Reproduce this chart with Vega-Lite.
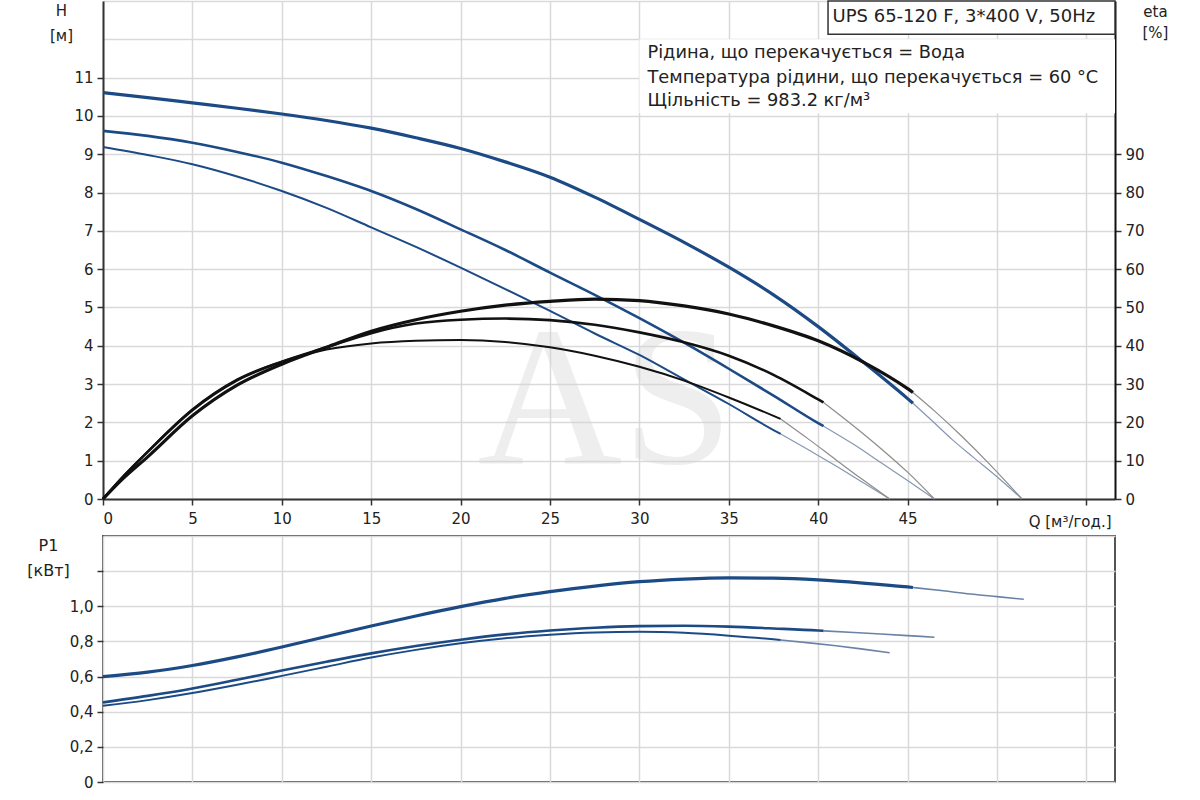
{
  "$schema": "https://vega.github.io/schema/vega-lite/v6.json",
  "background": "white",
  "padding": {"left": 25, "top": 0, "right": 0, "bottom": 0},
  "spacing": 6,
  "config": {
    "font": "DejaVu Sans",
    "axis": {
      "labelFont": "DejaVu Sans", "labelFontSize": 15, "labelColor": "#222",
      "titleFont": "DejaVu Sans", "titleFontSize": 15, "titleFontWeight": "normal", "titleColor": "#222",
      "gridColor": "#d9d9d9", "gridWidth": 1.5,
      "domainColor": "#333", "domainWidth": 2,
      "tickColor": "#333", "tickWidth": 1.5, "tickSize": 6
    }
  },
  "datasets": {
    "head": [
      {"s":1,"p":"m","q":0,"v":10.61},{"s":1,"p":"m","q":2.5,"v":10.48},{"s":1,"p":"m","q":5,"v":10.34},{"s":1,"p":"m","q":7.5,"v":10.2},{"s":1,"p":"m","q":10,"v":10.05},{"s":1,"p":"m","q":12.5,"v":9.88},{"s":1,"p":"m","q":15,"v":9.68},{"s":1,"p":"m","q":17.5,"v":9.43},{"s":1,"p":"m","q":20,"v":9.15},{"s":1,"p":"m","q":22.5,"v":8.8},{"s":1,"p":"m","q":25,"v":8.4},{"s":1,"p":"m","q":27.5,"v":7.88},{"s":1,"p":"m","q":30,"v":7.3},{"s":1,"p":"m","q":32.5,"v":6.7},{"s":1,"p":"m","q":35,"v":6.05},{"s":1,"p":"m","q":37.5,"v":5.33},{"s":1,"p":"m","q":40,"v":4.5},{"s":1,"p":"m","q":42.5,"v":3.58},{"s":1,"p":"m","q":45,"v":2.62},{"s":1,"p":"m","q":45.3,"v":2.5},
      {"s":1,"p":"e","q":45.3,"v":2.5},{"s":1,"p":"e","q":46.4,"v":2.03},{"s":1,"p":"e","q":47.5,"v":1.55},{"s":1,"p":"e","q":48.7,"v":1.08},{"s":1,"p":"e","q":50,"v":0.58},{"s":1,"p":"e","q":51.4,"v":0},
      {"s":2,"p":"m","q":0,"v":9.61},{"s":2,"p":"m","q":2.5,"v":9.48},{"s":2,"p":"m","q":5,"v":9.3},{"s":2,"p":"m","q":7.5,"v":9.06},{"s":2,"p":"m","q":10,"v":8.78},{"s":2,"p":"m","q":12.5,"v":8.43},{"s":2,"p":"m","q":15,"v":8.04},{"s":2,"p":"m","q":17.5,"v":7.57},{"s":2,"p":"m","q":20,"v":7.04},{"s":2,"p":"m","q":22.5,"v":6.5},{"s":2,"p":"m","q":25,"v":5.91},{"s":2,"p":"m","q":27.5,"v":5.33},{"s":2,"p":"m","q":30,"v":4.72},{"s":2,"p":"m","q":32.5,"v":4.08},{"s":2,"p":"m","q":35,"v":3.4},{"s":2,"p":"m","q":37.5,"v":2.7},{"s":2,"p":"m","q":40,"v":1.98},{"s":2,"p":"m","q":40.3,"v":1.9},
      {"s":2,"p":"e","q":40.3,"v":1.9},{"s":2,"p":"e","q":42,"v":1.42},{"s":2,"p":"e","q":43.5,"v":0.95},{"s":2,"p":"e","q":45,"v":0.48},{"s":2,"p":"e","q":46.5,"v":0},
      {"s":3,"p":"m","q":0,"v":9.19},{"s":3,"p":"m","q":2.5,"v":8.98},{"s":3,"p":"m","q":5,"v":8.74},{"s":3,"p":"m","q":7.5,"v":8.42},{"s":3,"p":"m","q":10,"v":8.04},{"s":3,"p":"m","q":12.5,"v":7.6},{"s":3,"p":"m","q":15,"v":7.09},{"s":3,"p":"m","q":17.5,"v":6.58},{"s":3,"p":"m","q":20,"v":6.04},{"s":3,"p":"m","q":22.5,"v":5.48},{"s":3,"p":"m","q":25,"v":4.91},{"s":3,"p":"m","q":27.5,"v":4.32},{"s":3,"p":"m","q":30,"v":3.76},{"s":3,"p":"m","q":32.5,"v":3.12},{"s":3,"p":"m","q":35,"v":2.48},{"s":3,"p":"m","q":37.5,"v":1.8},{"s":3,"p":"m","q":37.9,"v":1.7},
      {"s":3,"p":"e","q":37.9,"v":1.7},{"s":3,"p":"e","q":39.5,"v":1.27},{"s":3,"p":"e","q":41,"v":0.86},{"s":3,"p":"e","q":42.5,"v":0.43},{"s":3,"p":"e","q":44,"v":0}
    ],
    "eta": [
      {"s":1,"p":"m","q":0,"v":0},{"s":1,"p":"m","q":1,"v":4.8},{"s":1,"p":"m","q":2.5,"v":11},{"s":1,"p":"m","q":5,"v":21.7},{"s":1,"p":"m","q":7.5,"v":29.7},{"s":1,"p":"m","q":10,"v":35.2},{"s":1,"p":"m","q":12.5,"v":39.6},{"s":1,"p":"m","q":15,"v":43.8},{"s":1,"p":"m","q":17.5,"v":46.8},{"s":1,"p":"m","q":20,"v":49},{"s":1,"p":"m","q":22.5,"v":50.6},{"s":1,"p":"m","q":25,"v":51.6},{"s":1,"p":"m","q":27.5,"v":52.2},{"s":1,"p":"m","q":30,"v":51.8},{"s":1,"p":"m","q":32.5,"v":50.4},{"s":1,"p":"m","q":35,"v":48.3},{"s":1,"p":"m","q":37.5,"v":45.2},{"s":1,"p":"m","q":40,"v":41.3},{"s":1,"p":"m","q":42.5,"v":35.8},{"s":1,"p":"m","q":45,"v":28.8},{"s":1,"p":"m","q":45.3,"v":27.8},
      {"s":1,"p":"e","q":45.3,"v":27.8},{"s":1,"p":"e","q":46.5,"v":23},{"s":1,"p":"e","q":48,"v":16.5},{"s":1,"p":"e","q":49.5,"v":9.5},{"s":1,"p":"e","q":51.4,"v":0},
      {"s":2,"p":"m","q":0,"v":0},{"s":2,"p":"m","q":1,"v":5.2},{"s":2,"p":"m","q":2.5,"v":12.3},{"s":2,"p":"m","q":5,"v":23.2},{"s":2,"p":"m","q":7.5,"v":31},{"s":2,"p":"m","q":10,"v":35.8},{"s":2,"p":"m","q":12.5,"v":39.6},{"s":2,"p":"m","q":15,"v":43.3},{"s":2,"p":"m","q":17.5,"v":45.8},{"s":2,"p":"m","q":20,"v":46.8},{"s":2,"p":"m","q":22.5,"v":47.1},{"s":2,"p":"m","q":25,"v":46.7},{"s":2,"p":"m","q":27.5,"v":45.5},{"s":2,"p":"m","q":30,"v":43.5},{"s":2,"p":"m","q":32.5,"v":40.9},{"s":2,"p":"m","q":35,"v":37.4},{"s":2,"p":"m","q":37.5,"v":32.4},{"s":2,"p":"m","q":40,"v":26},{"s":2,"p":"m","q":40.3,"v":25.2},
      {"s":2,"p":"e","q":40.3,"v":25.2},{"s":2,"p":"e","q":42,"v":19},{"s":2,"p":"e","q":43.5,"v":13.2},{"s":2,"p":"e","q":45,"v":7},{"s":2,"p":"e","q":46.5,"v":0},
      {"s":3,"p":"m","q":0,"v":0},{"s":3,"p":"m","q":1,"v":5.3},{"s":3,"p":"m","q":2.5,"v":12.4},{"s":3,"p":"m","q":5,"v":23.4},{"s":3,"p":"m","q":7.5,"v":31.2},{"s":3,"p":"m","q":10,"v":35.9},{"s":3,"p":"m","q":12.5,"v":39},{"s":3,"p":"m","q":15,"v":40.6},{"s":3,"p":"m","q":17.5,"v":41.3},{"s":3,"p":"m","q":20,"v":41.5},{"s":3,"p":"m","q":22.5,"v":41},{"s":3,"p":"m","q":25,"v":39.6},{"s":3,"p":"m","q":27.5,"v":37.4},{"s":3,"p":"m","q":30,"v":34.5},{"s":3,"p":"m","q":32.5,"v":30.9},{"s":3,"p":"m","q":35,"v":26.5},{"s":3,"p":"m","q":37.5,"v":21.7},{"s":3,"p":"m","q":37.9,"v":20.9},
      {"s":3,"p":"e","q":37.9,"v":20.9},{"s":3,"p":"e","q":39.5,"v":15.5},{"s":3,"p":"e","q":41,"v":10.2},{"s":3,"p":"e","q":42.5,"v":5},{"s":3,"p":"e","q":44,"v":0}
    ],
    "power": [
      {"s":1,"p":"m","q":0,"v":0.6},{"s":1,"p":"m","q":2.5,"v":0.625},{"s":1,"p":"m","q":5,"v":0.663},{"s":1,"p":"m","q":7.5,"v":0.712},{"s":1,"p":"m","q":10,"v":0.768},{"s":1,"p":"m","q":12.5,"v":0.828},{"s":1,"p":"m","q":15,"v":0.888},{"s":1,"p":"m","q":17.5,"v":0.945},{"s":1,"p":"m","q":20,"v":0.998},{"s":1,"p":"m","q":22.5,"v":1.045},{"s":1,"p":"m","q":25,"v":1.083},{"s":1,"p":"m","q":27.5,"v":1.115},{"s":1,"p":"m","q":30,"v":1.14},{"s":1,"p":"m","q":32.5,"v":1.155},{"s":1,"p":"m","q":35,"v":1.162},{"s":1,"p":"m","q":37.5,"v":1.16},{"s":1,"p":"m","q":40,"v":1.15},{"s":1,"p":"m","q":42.5,"v":1.132},{"s":1,"p":"m","q":45,"v":1.11},{"s":1,"p":"m","q":45.3,"v":1.107},
      {"s":1,"p":"e","q":45.3,"v":1.107},{"s":1,"p":"e","q":47,"v":1.088},{"s":1,"p":"e","q":48.5,"v":1.07},{"s":1,"p":"e","q":50,"v":1.055},{"s":1,"p":"e","q":51.5,"v":1.04},
      {"s":2,"p":"m","q":0,"v":0.453},{"s":2,"p":"m","q":2.5,"v":0.49},{"s":2,"p":"m","q":5,"v":0.532},{"s":2,"p":"m","q":7.5,"v":0.582},{"s":2,"p":"m","q":10,"v":0.634},{"s":2,"p":"m","q":12.5,"v":0.684},{"s":2,"p":"m","q":15,"v":0.732},{"s":2,"p":"m","q":17.5,"v":0.774},{"s":2,"p":"m","q":20,"v":0.81},{"s":2,"p":"m","q":22.5,"v":0.84},{"s":2,"p":"m","q":25,"v":0.862},{"s":2,"p":"m","q":27.5,"v":0.878},{"s":2,"p":"m","q":30,"v":0.887},{"s":2,"p":"m","q":32.5,"v":0.889},{"s":2,"p":"m","q":35,"v":0.884},{"s":2,"p":"m","q":37.5,"v":0.874},{"s":2,"p":"m","q":40,"v":0.862},{"s":2,"p":"m","q":40.3,"v":0.86},
      {"s":2,"p":"e","q":40.3,"v":0.86},{"s":2,"p":"e","q":42,"v":0.851},{"s":2,"p":"e","q":43.5,"v":0.842},{"s":2,"p":"e","q":45,"v":0.833},{"s":2,"p":"e","q":46.5,"v":0.824},
      {"s":3,"p":"m","q":0,"v":0.434},{"s":3,"p":"m","q":2.5,"v":0.466},{"s":3,"p":"m","q":5,"v":0.506},{"s":3,"p":"m","q":7.5,"v":0.553},{"s":3,"p":"m","q":10,"v":0.604},{"s":3,"p":"m","q":12.5,"v":0.656},{"s":3,"p":"m","q":15,"v":0.708},{"s":3,"p":"m","q":17.5,"v":0.752},{"s":3,"p":"m","q":20,"v":0.789},{"s":3,"p":"m","q":22.5,"v":0.818},{"s":3,"p":"m","q":25,"v":0.838},{"s":3,"p":"m","q":27.5,"v":0.851},{"s":3,"p":"m","q":30,"v":0.855},{"s":3,"p":"m","q":32.5,"v":0.849},{"s":3,"p":"m","q":35,"v":0.833},{"s":3,"p":"m","q":37.5,"v":0.812},{"s":3,"p":"m","q":37.9,"v":0.808},
      {"s":3,"p":"e","q":37.9,"v":0.808},{"s":3,"p":"e","q":39.5,"v":0.792},{"s":3,"p":"e","q":41,"v":0.775},{"s":3,"p":"e","q":42.5,"v":0.756},{"s":3,"p":"e","q":44,"v":0.736}
    ]
  },
  "vconcat": [
    {
      "width": 1012,
      "height": 498,
      "view": {"stroke": null},
      "resolve": {"scale": {"y": "independent"}},
      "layer": [
        {
          "encoding": {
            "x": {
              "field": "q", "type": "quantitative",
              "scale": {"domain": [0, 56.6], "nice": false, "zero": false},
              "axis": {
                "values": [0, 5, 10, 15, 20, 25, 30, 35, 40, 45, 50, 55],
                "grid": true,
                "labelExpr": "datum.value <= 45 ? datum.label : ''",
                "labelPadding": 6,
                "title": "Q [м³/год.]",
                "titleAlign": "right", "titleBaseline": "middle",
                "titleX": 1008, "titleY": 22, "titleFontSize": 15
              }
            },
            "y": {
              "field": "v", "type": "quantitative",
              "scale": {"domain": [0, 13], "nice": false},
              "axis": {
                "values": [0, 1, 2, 3, 4, 5, 6, 7, 8, 9, 10, 11, 12, 13],
                "grid": true,
                "labelExpr": "datum.value <= 11 ? datum.label : ''",
                "tickOpacity": {"condition": {"test": "datum.value <= 11", "value": 1}, "value": 0},
                "labelPadding": 4,
                "title": ["H", "[м]"],
                "titleAngle": 0, "titleAlign": "center", "titleBaseline": "top",
                "titleX": -42, "titleY": 2, "titleLineHeight": 25
              }
            }
          },
          "layer": [
            {
              "data": {"values": [{"q": 28.1, "v": 0.95, "t": "AS"}]},
              "mark": {"type": "text", "font": "Liberation Serif", "fontSize": 200, "color": "#d4d4d4", "opacity": 0.38, "align": "center", "baseline": "alphabetic"},
              "encoding": {"text": {"field": "t"}}
            },
            {
              "data": {"name": "head"},
              "transform": [{"filter": "datum.p == 'e'"}],
              "mark": {"type": "line", "interpolate": "monotone", "color": "#8597b4", "strokeWidth": 1.2},
              "encoding": {"detail": {"field": "s"}}
            },
            {
              "data": {"name": "head"},
              "transform": [{"filter": "datum.p == 'm'"}],
              "mark": {"type": "line", "interpolate": "monotone", "color": "#1c4a85"},
              "encoding": {
                "strokeWidth": {"field": "s", "type": "ordinal", "scale": {"domain": [1, 2, 3], "range": [3.2, 2, 2]}, "legend": null}
              }
            },
            {
              "data": {"values": [{"q": 30, "q2": 56.6, "v": 10.07, "v2": 12.0}]},
              "mark": {"type": "rect", "fill": "white"},
              "encoding": {"x2": {"field": "q2"}, "y2": {"field": "v2"}}
            },
            {
              "data": {"values": [{"q": 40.55, "q2": 56.6, "v": 12.13, "v2": 13.0}]},
              "mark": {"type": "rect", "fill": "white", "stroke": "#333", "strokeWidth": 1.5},
              "encoding": {"x2": {"field": "q2"}, "y2": {"field": "v2"}}
            },
            {
              "data": {"values": [{"q": 40.8, "v": 12.57, "t": "UPS 65-120 F, 3*400 V, 50Hz"}]},
              "mark": {"type": "text", "align": "left", "baseline": "middle", "fontSize": 18, "color": "#222"},
              "encoding": {"text": {"field": "t"}}
            },
            {
              "data": {"values": [
                {"q": 30.45, "v": 11.63, "t": "Рідина, що перекачується = Вода"},
                {"q": 30.45, "v": 11.0, "t": "Температура рідини, що перекачується = 60 °C"},
                {"q": 30.45, "v": 10.38, "t": "Щільність = 983.2 кг/м³"}
              ]},
              "mark": {"type": "text", "align": "left", "baseline": "middle", "fontSize": 17.8, "color": "#222"},
              "encoding": {"text": {"field": "t"}}
            }
          ]
        },
        {
          "data": {"name": "eta"},
          "encoding": {
            "x": {"field": "q", "type": "quantitative", "scale": {"domain": [0, 56.6], "nice": false, "zero": false}},
            "y": {
              "field": "v", "type": "quantitative",
              "scale": {"domain": [0, 130], "nice": false},
              "axis": {
                "orient": "right",
                "values": [0, 10, 20, 30, 40, 50, 60, 70, 80, 90],
                "grid": false,
                "domainColor": "#111",
                "labelPadding": 4,
                "title": ["eta", "[%]"],
                "titleAngle": 0, "titleAlign": "center", "titleBaseline": "top",
                "titleX": 40, "titleY": 3, "titleLineHeight": 21
              }
            }
          },
          "layer": [
            {
              "transform": [{"filter": "datum.p == 'e'"}],
              "mark": {"type": "line", "interpolate": "monotone", "color": "#8c8c8c", "strokeWidth": 1.2},
              "encoding": {"detail": {"field": "s"}}
            },
            {
              "transform": [{"filter": "datum.p == 'm'"}],
              "mark": {"type": "line", "interpolate": "monotone", "color": "#111"},
              "encoding": {
                "strokeWidth": {"field": "s", "type": "ordinal", "scale": {"domain": [1, 2, 3], "range": [3, 2, 2]}, "legend": null}
              }
            }
          ]
        }
      ]
    },
    {
      "width": 1012,
      "height": 246,
      "view": {"stroke": "#555", "strokeWidth": 2},
      "data": {"name": "power"},
      "encoding": {
        "x": {
          "field": "q", "type": "quantitative",
          "scale": {"domain": [0, 56.6], "nice": false, "zero": false},
          "axis": {"values": [0, 5, 10, 15, 20, 25, 30, 35, 40, 45, 50, 55], "grid": true, "labels": false, "ticks": false, "domain": false, "title": null}
        },
        "y": {
          "field": "v", "type": "quantitative",
          "scale": {"domain": [0, 1.4], "nice": false},
          "axis": {
            "values": [0, 0.2, 0.4, 0.6, 0.8, 1.0, 1.2, 1.4],
            "grid": true,
            "domain": false,
            "labelExpr": "datum.value == 0 ? '0' : (datum.value <= 1.05 ? replace(format(datum.value, '.1f'), '.', ',') : '')",
            "tickOpacity": {"condition": {"test": "datum.value <= 1.25", "value": 1}, "value": 0},
            "labelPadding": 4,
            "title": ["P1", "[кВт]"],
            "titleAngle": 0, "titleAlign": "center", "titleBaseline": "top",
            "titleX": -55, "titleY": 1, "titleLineHeight": 25, "titleFontSize": 16
          }
        }
      },
      "layer": [
        {
          "transform": [{"filter": "datum.p == 'e'"}],
          "mark": {"type": "line", "interpolate": "monotone", "color": "#6b82a6", "strokeWidth": 1.6},
          "encoding": {"detail": {"field": "s"}}
        },
        {
          "transform": [{"filter": "datum.p == 'm'"}],
          "mark": {"type": "line", "interpolate": "monotone", "color": "#1c4a85"},
          "encoding": {
            "strokeWidth": {"field": "s", "type": "ordinal", "scale": {"domain": [1, 2, 3], "range": [3.5, 2.2, 2.2]}, "legend": null}
          }
        }
      ]
    }
  ]
}
